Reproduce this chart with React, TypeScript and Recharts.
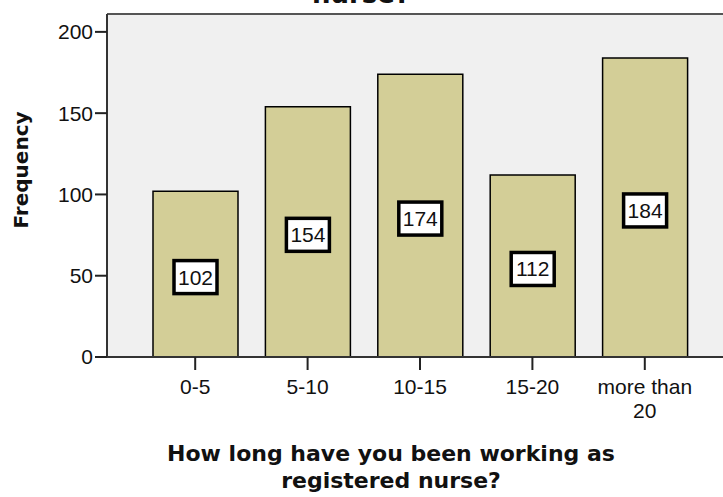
import React from 'react';
import { BarChart, Bar, XAxis, YAxis, CartesianGrid, ReferenceLine, LabelList } from 'recharts';

const categories = ['0-5', '5-10', '10-15', '15-20', 'more than 20'];
const frequencies = [102, 154, 174, 112, 184];
const yTicks = [0, 50, 100, 150, 200];
const yMax = 211;

const chartTitle = 'nurse?';
const xTitle = ['How long have you been working as', 'registered nurse?'];
const yTitle = 'Frequency';

const data = categories.map((name, i) => ({ name, value: frequencies[i] }));

const sans = '"Liberation Sans", Arial, sans-serif';
const bold = '"DejaVu Sans", Verdana, sans-serif';

function CategoryTick({ x, y, payload }: any) {
  const text: string = String(payload.value);
  // long labels wrap onto two lines, like SPSS does
  const cut = text.lastIndexOf(' ');
  const lines = text.length > 6 && cut > 0 ? [text.slice(0, cut), text.slice(cut + 1)] : [text];
  return (
    <text x={x} y={y + 22} textAnchor='middle' fontFamily={sans} fontSize={21} fill='#111'>
      {lines.map((l, i) => (
        <tspan key={i} x={x} dy={i === 0 ? 0 : 24}>
          {l}
        </tspan>
      ))}
    </text>
  );
}

function ValueBox(props: any) {
  const { x, y, width, height, value } = props;
  const cx = x + width / 2;
  const cy = y + height / 2 + 3;
  return (
    <g>
      <rect x={cx - 21.5} y={cy - 16.5} width={43} height={33} fill='#fff' stroke='#000' strokeWidth={3.5} />
      <text x={cx} y={cy + 7.5} textAnchor='middle' fontFamily={sans} fontSize={21} fill='#111'>
        {value}
      </text>
    </g>
  );
}

// titles are drawn at fixed spots, as in the exported picture
function Titles() {
  return (
    <g>
      <text x={361} y={3} textAnchor='middle' fontFamily={bold} fontWeight='bold' fontSize={26} fill='#111'>
        {chartTitle}
      </text>
      {xTitle.map((t, i) => (
        <text key={t} x={391} y={461 + i * 27} textAnchor='middle' fontFamily={bold} fontWeight='bold' fontSize={22} fill='#111'>
          {t}
        </text>
      ))}
      <text
        x={28}
        y={170}
        transform='rotate(-90 28 170)'
        textAnchor='middle'
        fontFamily={bold}
        fontWeight='bold'
        fontSize={20}
        fill='#111'>
        {yTitle}
      </text>
    </g>
  );
}

export default function App() {
  return (
    <div style={{ position: 'absolute', left: 0, top: 0, width: 723, height: 497, overflow: 'hidden', background: '#fff' }}>
      <BarChart width={733} height={497} data={data} margin={{ top: 14, right: 0, bottom: 80, left: 0 }}>
        <CartesianGrid horizontal={false} vertical={false} fill='#F0F0F0' stroke='none' />
        <XAxis
          dataKey='name'
          padding={{ left: 32, right: 32 }}
          height={60}
          tickSize={13}
          tickLine={{ stroke: '#222', strokeWidth: 2 }}
          axisLine={{ stroke: '#333', strokeWidth: 2 }}
          tick={<CategoryTick />}
          interval={0}
          label={{ content: () => <Titles /> }}
        />
        <YAxis
          width={107}
          domain={[0, yMax]}
          ticks={yTicks}
          allowDataOverflow
          tickSize={12}
          tickLine={{ stroke: '#222', strokeWidth: 2 }}
          axisLine={{ stroke: '#333', strokeWidth: 2 }}
          tick={{ fontFamily: sans, fontSize: 21, fill: '#111' }}
        />
        <ReferenceLine y={yMax} stroke='#555' strokeWidth={2} />
        <Bar dataKey='value' barSize={85} fill='#D3CE97' stroke='#000' strokeWidth={1.5} isAnimationActive={false}>
          <LabelList dataKey='value' content={<ValueBox />} />
        </Bar>
      </BarChart>
    </div>
  );
}
